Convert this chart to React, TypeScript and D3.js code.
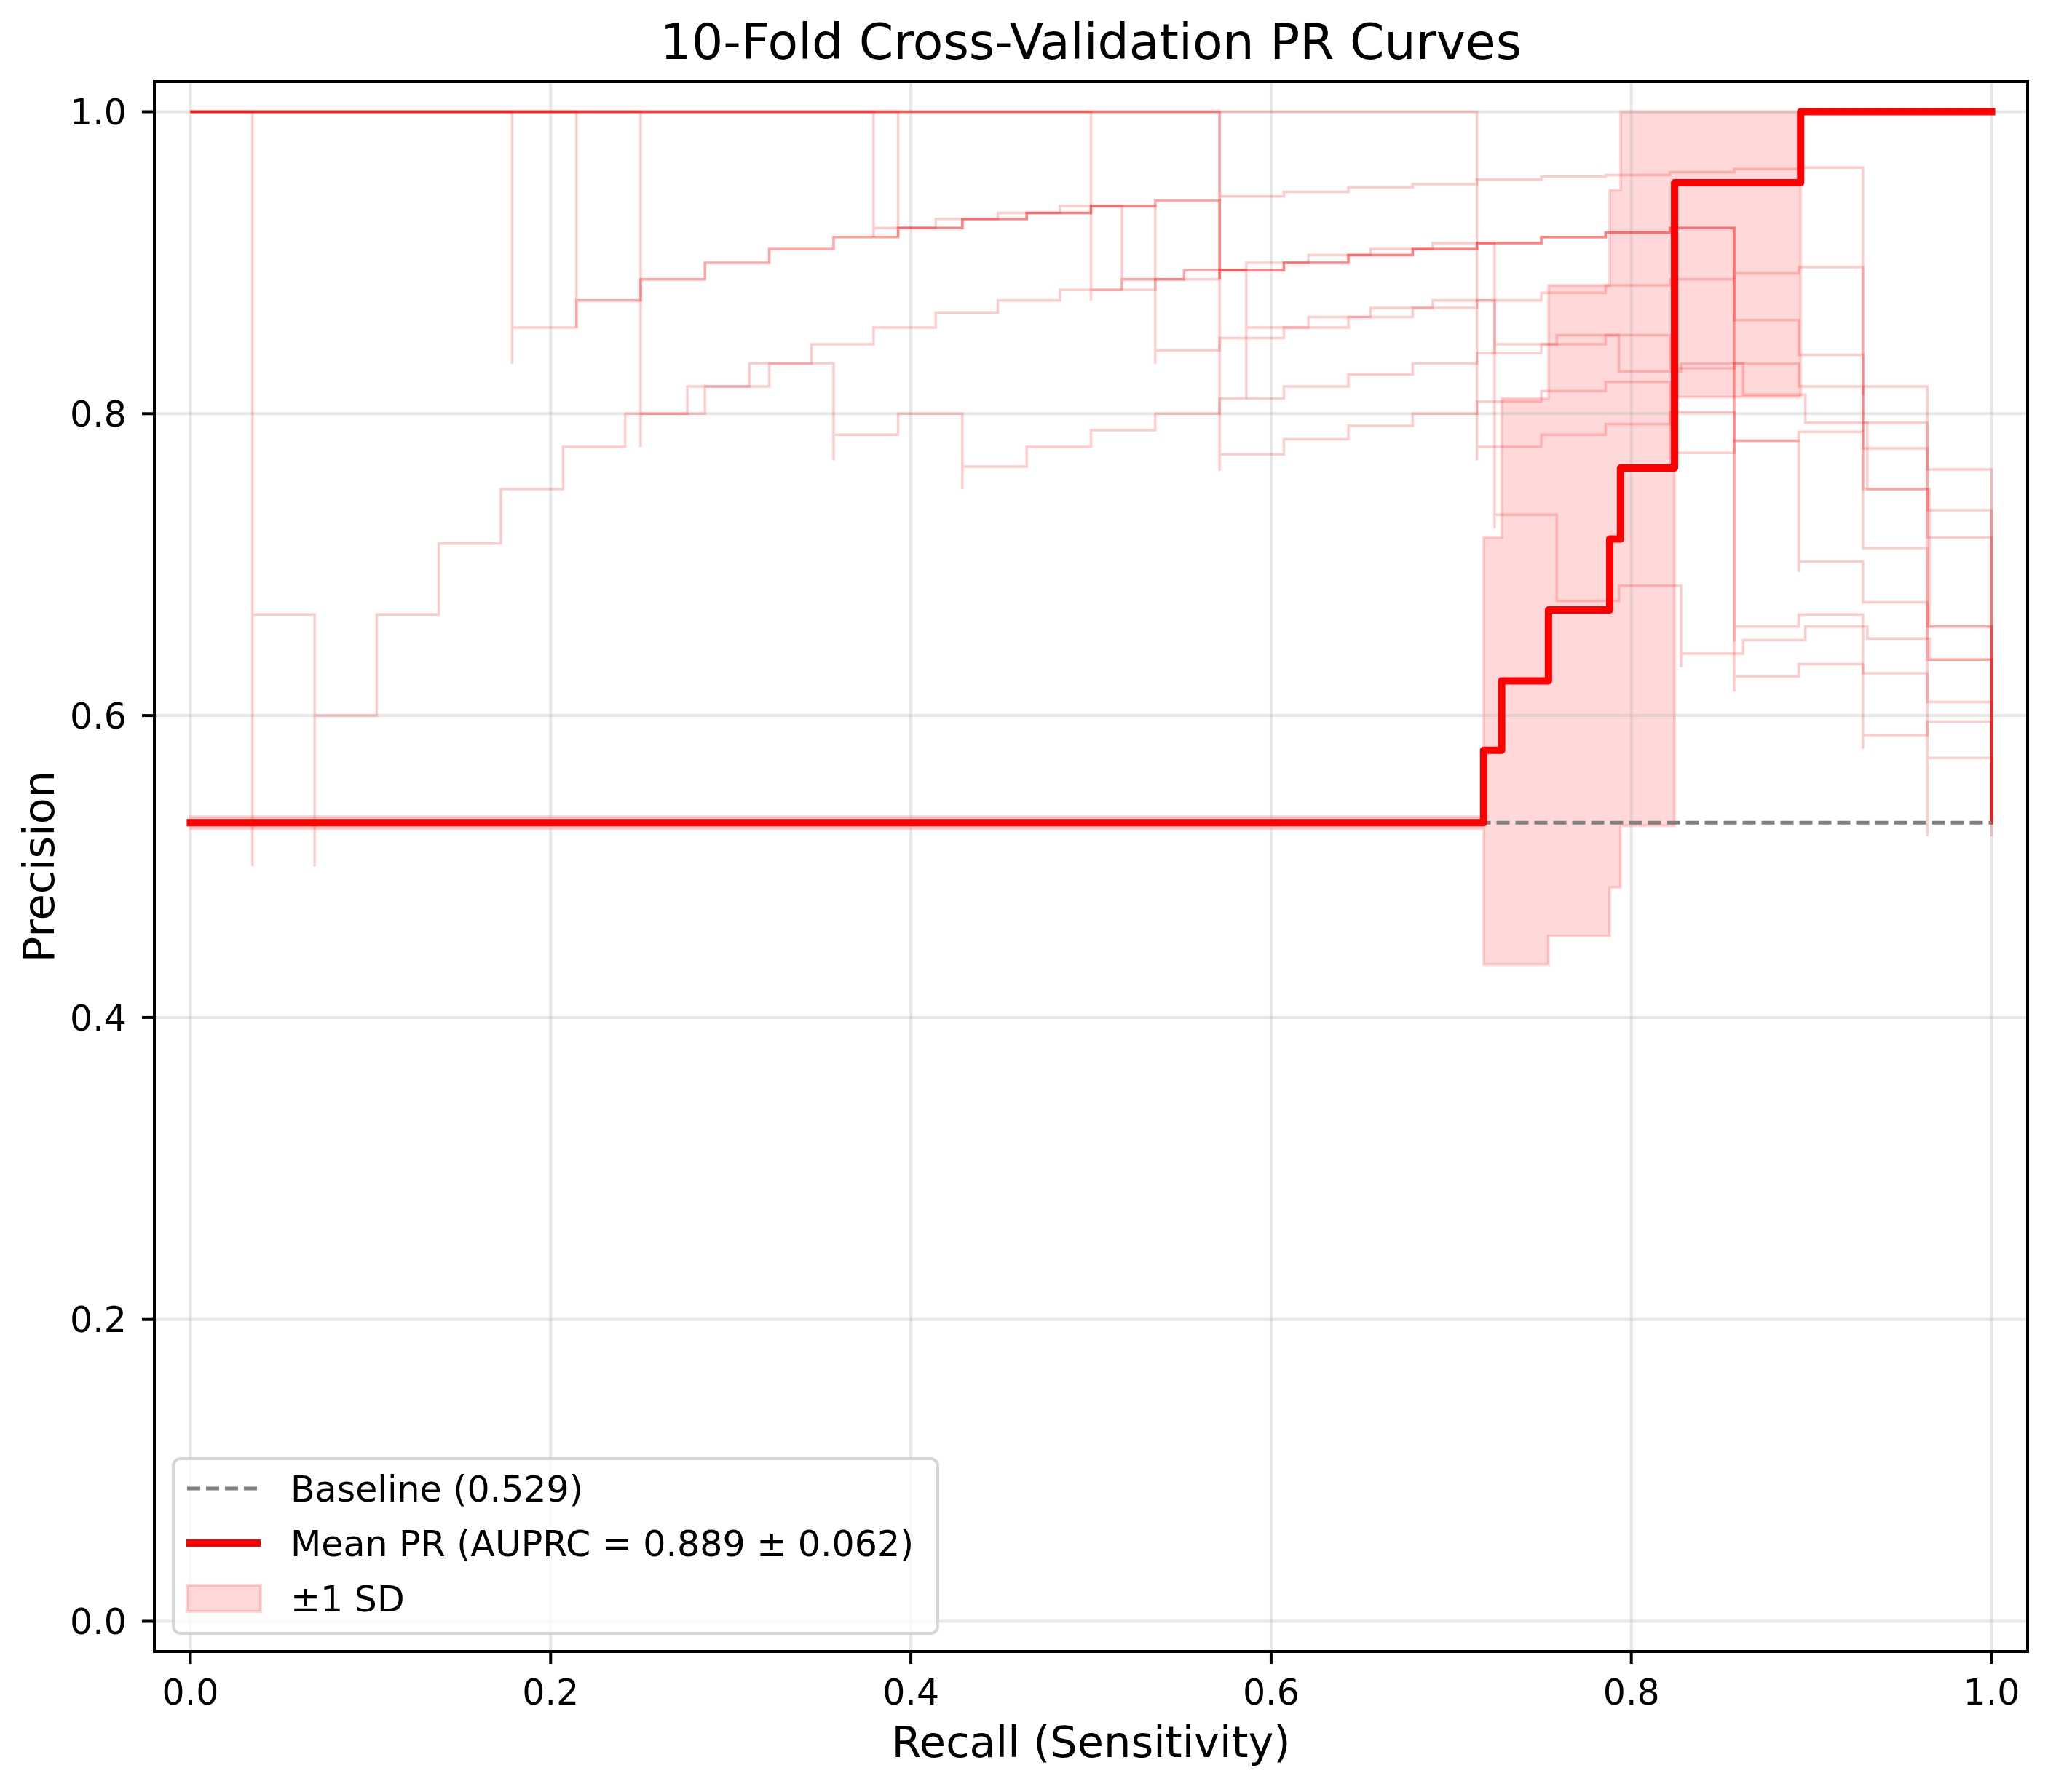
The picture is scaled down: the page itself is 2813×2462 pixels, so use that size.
import React from 'react';
import * as d3 from 'd3';

const WIDTH = 2813;
const HEIGHT = 2462;
const PLOT = { left: 212, right: 2785, top: 112, bottom: 2269 };
const FONT = '"DejaVu Sans", "Liberation Sans", sans-serif';

const TICKS = [0, 0.2, 0.4, 0.6, 0.8, 1.0];
const TICK_LABELS = ['0.0', '0.2', '0.4', '0.6', '0.8', '1.0'];

const BASELINE = 0.529;

// mean PR curve (step-post) and its +-1 SD band
const MEAN_RECALL = [0, 0.718, 0.728, 0.754, 0.788, 0.794, 0.824, 0.894, 1.0];
const MEAN_PRECISION = [0.529, 0.577, 0.623, 0.67, 0.717, 0.764, 0.953, 1.0, 1.0];
const SD_UPPER = [0.533, 0.718, 0.81, 0.885, 0.948, 1.0, 1.0, 1.0, 1.0];
const SD_LOWER = [0.525, 0.435, 0.435, 0.454, 0.486, 0.527, 0.811, 1.0, 1.0];

// per-fold curves: [recall, precision], precision is the level up to that recall
const FOLD_1 = [[0, 1], [0.0345, 1], [0.0345, 0.5], [0.069, 0.667], [0.069, 0.5], [0.1034, 0.6], [0.1379, 0.667], [0.1724, 0.714], [0.2069, 0.75], [0.2414, 0.778], [0.2759, 0.8], [0.3103, 0.818], [0.3448, 0.833], [0.3793, 0.846], [0.4138, 0.857], [0.4483, 0.867], [0.4828, 0.875], [0.5172, 0.882], [0.5517, 0.889], [0.5862, 0.895], [0.6207, 0.9], [0.6552, 0.905], [0.6897, 0.909], [0.7241, 0.913], [0.7241, 0.84], [0.7586, 0.846], [0.7931, 0.852], [0.8276, 0.828], [0.8621, 0.833], [0.8966, 0.8125], [0.931, 0.794], [0.9655, 0.75], [1, 0.659], [1, 0.528]];
const FOLD_2 = [[0, 1], [0.1786, 1], [0.1786, 0.833], [0.2143, 0.857], [0.25, 0.875], [0.2857, 0.889], [0.3214, 0.9], [0.3571, 0.909], [0.3929, 0.917], [0.4286, 0.923], [0.4643, 0.929], [0.5, 0.933], [0.5357, 0.9375], [0.5714, 0.941], [0.5714, 0.889], [0.6071, 0.895], [0.6429, 0.9], [0.6786, 0.905], [0.7143, 0.909], [0.75, 0.913], [0.7857, 0.917], [0.8214, 0.92], [0.8571, 0.923], [0.8571, 0.889], [0.8929, 0.893], [0.9286, 0.897], [0.9286, 0.788], [0.9643, 0.794], [1, 0.736], [1, 0.528]];
const FOLD_3 = [[0, 1], [0.2143, 1], [0.2143, 0.857], [0.25, 0.875], [0.2857, 0.889], [0.3214, 0.9], [0.3571, 0.909], [0.3929, 0.917], [0.4286, 0.923], [0.4643, 0.929], [0.5, 0.933], [0.5357, 0.9375], [0.5357, 0.833], [0.5714, 0.842], [0.6071, 0.85], [0.6429, 0.857], [0.6786, 0.864], [0.7143, 0.87], [0.75, 0.875], [0.7857, 0.88], [0.8214, 0.885], [0.8571, 0.889], [0.8929, 0.862], [0.9286, 0.839], [0.9643, 0.777], [1, 0.718], [1, 0.528]];
const FOLD_4 = [[0, 1], [0.25, 1], [0.25, 0.778], [0.2857, 0.8], [0.3214, 0.818], [0.3571, 0.833], [0.3571, 0.769], [0.3929, 0.786], [0.4286, 0.8], [0.4286, 0.75], [0.4643, 0.765], [0.5, 0.778], [0.5357, 0.789], [0.5714, 0.8], [0.6071, 0.81], [0.6429, 0.818], [0.6786, 0.826], [0.7143, 0.833], [0.75, 0.84], [0.7857, 0.846], [0.8214, 0.852], [0.8571, 0.83], [0.8929, 0.833], [0.9286, 0.818], [0.9643, 0.75], [1, 0.659], [1, 0.528]];
const FOLD_5 = [[0, 1], [0.3793, 1], [0.3793, 0.917], [0.4138, 0.923], [0.4483, 0.929], [0.4828, 0.933], [0.5172, 0.9375], [0.5172, 0.882], [0.5517, 0.889], [0.5862, 0.895], [0.5862, 0.81], [0.6207, 0.857], [0.6552, 0.864], [0.6897, 0.87], [0.7241, 0.875], [0.7241, 0.724], [0.7586, 0.733], [0.7931, 0.676], [0.8276, 0.686], [0.8276, 0.632], [0.8621, 0.641], [0.8966, 0.65], [0.931, 0.659], [0.9655, 0.651], [1, 0.637], [1, 0.528]];
const FOLD_6 = [[0, 1], [0.3929, 1], [0.3929, 0.917], [0.4286, 0.923], [0.4643, 0.929], [0.5, 0.933], [0.5357, 0.9375], [0.5714, 0.941], [0.5714, 0.889], [0.6071, 0.895], [0.6429, 0.9], [0.6786, 0.905], [0.7143, 0.909], [0.75, 0.913], [0.7857, 0.917], [0.8214, 0.92], [0.8571, 0.923], [0.8571, 0.616], [0.8929, 0.626], [0.9286, 0.634], [0.9643, 0.628], [0.9643, 0.52], [1, 0.572], [1, 0.52]];
const FOLD_7 = [[0, 1], [0.5, 1], [0.5, 0.875], [0.5357, 0.882], [0.5714, 0.889], [0.6071, 0.895], [0.6429, 0.9], [0.6786, 0.905], [0.7143, 0.909], [0.75, 0.913], [0.7857, 0.917], [0.8214, 0.92], [0.8571, 0.923], [0.8571, 0.649], [0.8929, 0.659], [0.9286, 0.667], [0.9286, 0.578], [0.9643, 0.587], [1, 0.596], [1, 0.528]];
const FOLD_8 = [[0, 1], [0.5714, 1], [0.5714, 0.941], [0.6071, 0.944], [0.6429, 0.947], [0.6786, 0.95], [0.7143, 0.952], [0.75, 0.955], [0.7857, 0.957], [0.8214, 0.958], [0.8571, 0.96], [0.8929, 0.962], [0.9286, 0.963], [0.9286, 0.8125], [0.9643, 0.818], [1, 0.763], [1, 0.528]];
const FOLD_9 = [[0, 1], [0.7143, 1], [0.7143, 0.769], [0.75, 0.778], [0.7857, 0.786], [0.8214, 0.793], [0.8571, 0.801], [0.8929, 0.782], [0.9286, 0.788], [0.9643, 0.711], [1, 0.637], [1, 0.528]];
const FOLD_10 = [[0, 1], [0.5714, 1], [0.5714, 0.762], [0.6071, 0.773], [0.6429, 0.783], [0.6786, 0.792], [0.7143, 0.8], [0.75, 0.808], [0.7857, 0.815], [0.8214, 0.821], [0.8214, 0.767], [0.8571, 0.774], [0.8929, 0.782], [0.8929, 0.695], [0.9286, 0.702], [0.9643, 0.675], [1, 0.609], [1, 0.528]];

const FOLDS = [FOLD_1, FOLD_2, FOLD_3, FOLD_4, FOLD_5, FOLD_6, FOLD_7, FOLD_8, FOLD_9, FOLD_10];

const LEGEND_LABELS = ['Baseline (0.529)', 'Mean PR (AUPRC = 0.889 \u00b1 0.062)', '\u00b11 SD'];

const App: React.FC = () => {
  const x = d3.scaleLinear().domain([-0.02, 1.02]).range([PLOT.left, PLOT.right]);
  const y = d3.scaleLinear().domain([-0.02, 1.02]).range([PLOT.bottom, PLOT.top]);

  const foldLine = d3
    .line<number[]>()
    .x(d => x(d[0]))
    .y(d => y(d[1]))
    .curve(d3.curveStepBefore);

  const meanPoints = MEAN_RECALL.map((r, i) => [r, MEAN_PRECISION[i]]);
  const meanLine = d3
    .line<number[]>()
    .x(d => x(d[0]))
    .y(d => y(d[1]))
    .curve(d3.curveStepAfter);

  const band = d3
    .area<number>()
    .x(d => x(d))
    .y0((_, i) => y(SD_LOWER[i]))
    .y1((_, i) => y(SD_UPPER[i]))
    .curve(d3.curveStepAfter);

  const plotW = PLOT.right - PLOT.left;
  const plotH = PLOT.bottom - PLOT.top;

  // legend geometry
  const lg = { x: 238, y: 2004, w: 1050, h: 240 };
  const rowY = [2045, 2120, 2196];

  return (
    <svg
      width={WIDTH}
      height={HEIGHT}
      viewBox={`0 0 ${WIDTH} ${HEIGHT}`}
      style={{ position: 'absolute', left: 0, top: 0, background: '#fff' }}
      fontFamily={FONT}
    >
      <rect x={0} y={0} width={WIDTH} height={HEIGHT} fill="#fff" />
      <defs>
        <clipPath id="plot-clip">
          <rect x={PLOT.left} y={PLOT.top} width={plotW} height={plotH} />
        </clipPath>
      </defs>

      {/* title */}
      <text x={(PLOT.left + PLOT.right) / 2} y={81} fontSize={68} textAnchor="middle" fill="#000">
        10-Fold Cross-Validation PR Curves
      </text>

      <g clipPath="url(#plot-clip)">
        {/* sd band */}
        <path
          d={band(MEAN_RECALL) || ''}
          fill="#ff0000"
          fillOpacity={0.15}
          stroke="#ff0000"
          strokeOpacity={0.15}
          strokeWidth={4}
        />

        {/* grid */}
        {TICKS.map(t => (
          <line key={`gx${t}`} x1={x(t)} x2={x(t)} y1={PLOT.top} y2={PLOT.bottom} stroke="#b0b0b0" strokeOpacity={0.3} strokeWidth={4} />
        ))}
        {TICKS.map(t => (
          <line key={`gy${t}`} x1={PLOT.left} x2={PLOT.right} y1={y(t)} y2={y(t)} stroke="#b0b0b0" strokeOpacity={0.3} strokeWidth={4} />
        ))}

        {/* individual folds */}
        {FOLDS.map((f, i) => (
          <path
            key={`fold${i}`}
            d={foldLine(f) || ''}
            fill="none"
            stroke="#ff0000"
            strokeOpacity={0.2}
            strokeWidth={3.5}
          />
        ))}

        {/* baseline */}
        <line
          x1={x(0)}
          x2={x(1)}
          y1={y(BASELINE)}
          y2={y(BASELINE)}
          stroke="#808080"
          strokeWidth={5}
          strokeDasharray="18 8"
        />

        {/* mean */}
        <path
          d={meanLine(meanPoints) || ''}
          fill="none"
          stroke="#ff0000"
          strokeWidth={10}
          strokeLinejoin="round"
          strokeLinecap="square"
        />
      </g>

      {/* spines */}
      <rect x={PLOT.left} y={PLOT.top} width={plotW} height={plotH} fill="none" stroke="#000" strokeWidth={4} />

      {/* x ticks */}
      {TICKS.map((t, i) => (
        <g key={`xt${t}`}>
          <line x1={x(t)} x2={x(t)} y1={PLOT.bottom} y2={PLOT.bottom + 17} stroke="#000" strokeWidth={4} />
          <text x={x(t)} y={2342} fontSize={49} textAnchor="middle" fill="#000">
            {TICK_LABELS[i]}
          </text>
        </g>
      ))}

      {/* y ticks */}
      {TICKS.map((t, i) => (
        <g key={`yt${t}`}>
          <line x1={PLOT.left - 17} x2={PLOT.left} y1={y(t)} y2={y(t)} stroke="#000" strokeWidth={4} />
          <text x={174} y={y(t)} dy="0.36em" fontSize={49} textAnchor="end" fill="#000">
            {TICK_LABELS[i]}
          </text>
        </g>
      ))}

      {/* axis labels */}
      <text x={(PLOT.left + PLOT.right) / 2} y={2414} fontSize={59} textAnchor="middle" fill="#000">
        Recall (Sensitivity)
      </text>
      <text
        transform={`translate(74, ${(PLOT.top + PLOT.bottom) / 2}) rotate(-90)`}
        fontSize={59}
        textAnchor="middle"
        fill="#000"
      >
        Precision
      </text>

      {/* legend */}
      <g>
        <rect
          x={lg.x}
          y={lg.y}
          width={lg.w}
          height={lg.h}
          rx={10}
          fill="#fff"
          fillOpacity={0.8}
          stroke="#cccccc"
          strokeOpacity={0.8}
          strokeWidth={4}
        />
        <line x1={257} x2={357} y1={rowY[0]} y2={rowY[0]} stroke="#808080" strokeWidth={5} strokeDasharray="18 8" />
        <line x1={256} x2={358} y1={rowY[1]} y2={rowY[1]} stroke="#ff0000" strokeWidth={10} />
        <rect
          x={257}
          y={rowY[2] - 18}
          width={101}
          height={36}
          fill="#ff0000"
          fillOpacity={0.15}
          stroke="#ff0000"
          strokeOpacity={0.15}
          strokeWidth={4}
        />
        {LEGEND_LABELS.map((l, i) => (
          <text key={l} x={399} y={rowY[i]} dy="0.36em" fontSize={49} fill="#000">
            {l}
          </text>
        ))}
      </g>
    </svg>
  );
};

export default App;
